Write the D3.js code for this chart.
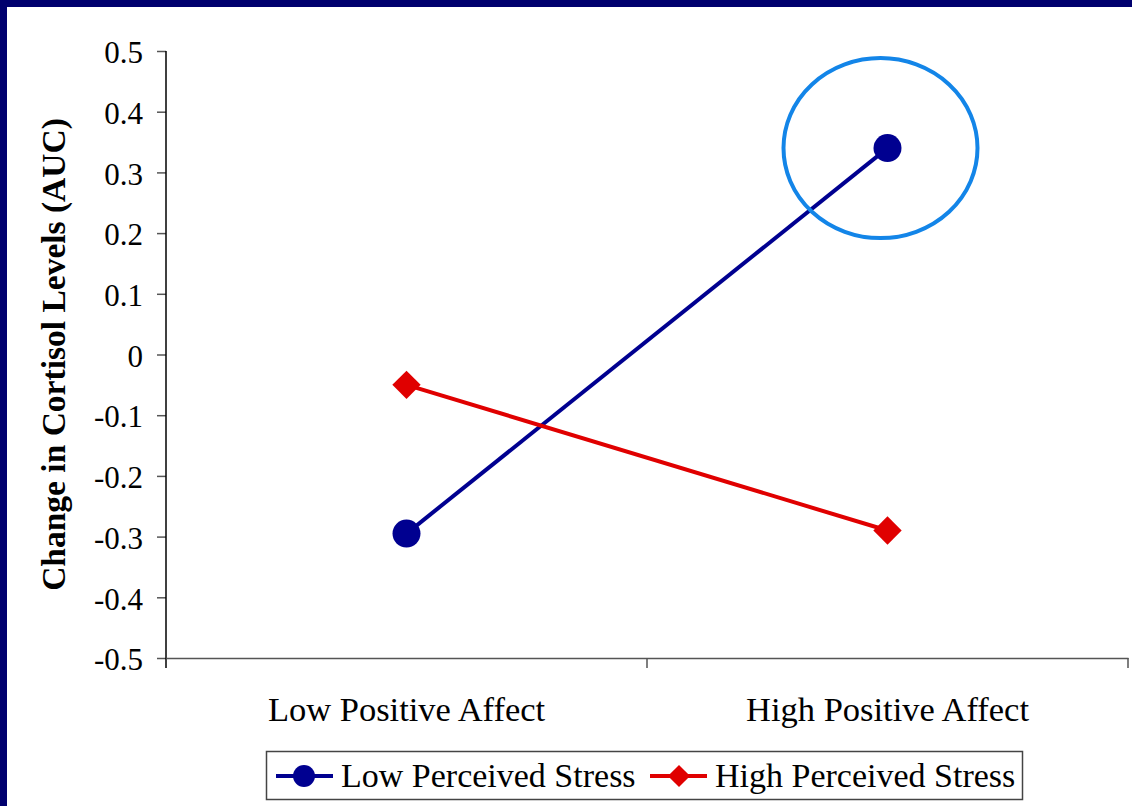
<!DOCTYPE html>
<html>
<head>
<meta charset="utf-8">
<script src="https://cdn.jsdelivr.net/npm/d3@7"></script>
<style>
html,body{margin:0;padding:0;background:#fff;}
svg{display:block;}
</style>
</head>
<body>
<svg id="chart" width="1132" height="806"></svg>
<script>
const categories = ["Low Positive Affect", "High Positive Affect"];
const seriesNames = ["Low Perceived Stress", "High Perceived Stress"];
const lowStress = [-0.295, 0.34];
const highStress = [-0.05, -0.29];
const yTicks = [0.5, 0.4, 0.3, 0.2, 0.1, 0, -0.1, -0.2, -0.3, -0.4, -0.5];
const yTickLabels = ["0.5", "0.4", "0.3", "0.2", "0.1", "0", "-0.1", "-0.2", "-0.3", "-0.4", "-0.5"];
const yTitle = "Change in Cortisol Levels (AUC)";

const svg = d3.select("#chart");
const W = 1132, H = 806;
const serif = "'Liberation Serif','Times New Roman',Times,serif";

// background + navy frame
svg.append("rect").attr("x", 0).attr("y", 0).attr("width", W).attr("height", H).attr("fill", "#00006e");
svg.append("rect").attr("x", 7).attr("y", 7).attr("width", W - 7).attr("height", H - 7).attr("fill", "#fff");

const x = d3.scaleBand().domain(categories).range([166, 1128]).paddingInner(0).paddingOuter(0);
const y = d3.scaleLinear().domain([-0.5, 0.5]).range([658, 51]);
const cx = d => x(d) + x.bandwidth() / 2;

// Y axis
const yAxis = d3.axisLeft(y).tickValues(yTicks).tickSize(9).tickPadding(14)
  .tickFormat((d, i) => yTickLabels[i]);
const gy = svg.append("g").attr("transform", "translate(166,0)").call(yAxis);
gy.select(".domain").remove();
gy.selectAll(".tick line").attr("stroke", "#555").attr("stroke-width", 1.5);
gy.selectAll(".tick text").attr("font-family", serif).attr("font-size", 31).attr("fill", "#000").attr("dy", "0.38em");
svg.append("line").attr("x1", 166).attr("x2", 166).attr("y1", y(0.5)).attr("y2", y(-0.5) + 10)
  .attr("stroke", "#000").attr("stroke-width", 1.5);

// X axis
const xAxis = d3.axisBottom(x).tickSize(0).tickPadding(47);
const gx = svg.append("g").attr("transform", `translate(0,${y(-0.5)})`).call(xAxis);
gx.select(".domain").attr("stroke", "#555").attr("stroke-width", 1.5);
gx.selectAll(".tick line").remove();
gx.selectAll(".tick text").attr("font-family", serif).attr("font-size", 34.5).attr("fill", "#000").attr("dy", "0.45em");
const boundaries = categories.map(c => x(c)).concat([x(categories[categories.length - 1]) + x.bandwidth()]);
svg.append("g").selectAll("line").data(boundaries.slice(1)).join("line")
  .attr("x1", d => d).attr("x2", d => d).attr("y1", y(-0.5)).attr("y2", y(-0.5) + 10)
  .attr("stroke", "#555").attr("stroke-width", 1.5);

// Y title
svg.append("text")
  .attr("transform", `translate(65,${(y(0.5) + y(-0.5)) / 2}) rotate(-90)`)
  .attr("text-anchor", "middle")
  .attr("font-family", serif).attr("font-weight", "bold").attr("font-size", 33.5)
  .attr("fill", "#000").text(yTitle);

// Series
const blue = "#000090", red = "#e00000";
const line = d3.line().x((d, i) => cx(categories[i])).y(d => y(d));

svg.append("path").datum(lowStress).attr("d", line).attr("fill", "none").attr("stroke", blue).attr("stroke-width", 4);
svg.append("path").datum(highStress).attr("d", line).attr("fill", "none").attr("stroke", red).attr("stroke-width", 4);

svg.append("g").selectAll("circle").data(lowStress).join("circle")
  .attr("cx", (d, i) => cx(categories[i])).attr("cy", d => y(d)).attr("r", 14).attr("fill", blue);

const diamond = d3.symbol().type(d3.symbolDiamond2).size(2 * 16 * 16);
svg.append("g").selectAll("path").data(highStress).join("path")
  .attr("d", diamond)
  .attr("transform", (d, i) => `translate(${cx(categories[i])},${y(d)})`)
  .attr("fill", red);

// Annotation ellipse around the high-PA / low-stress point
svg.append("ellipse")
  .attr("cx", cx(categories[1]) - 7).attr("cy", y(lowStress[1]))
  .attr("rx", 97).attr("ry", 90)
  .attr("fill", "none").attr("stroke", "#1385e8").attr("stroke-width", 4);

// Legend
const lg = svg.append("g");
lg.append("rect").attr("x", 266.5).attr("y", 751.5).attr("width", 756).attr("height", 48)
  .attr("fill", "#fff").attr("stroke", "#444").attr("stroke-width", 1.5);
const legendItems = [
  {name: seriesNames[0], color: blue, x0: 276, shape: "circle"},
  {name: seriesNames[1], color: red, x0: 650, shape: "diamond"}
];
const ly = 776;
legendItems.forEach(it => {
  lg.append("line").attr("x1", it.x0).attr("x2", it.x0 + 57).attr("y1", ly).attr("y2", ly)
    .attr("stroke", it.color).attr("stroke-width", 4);
  if (it.shape === "circle") {
    lg.append("circle").attr("cx", it.x0 + 28).attr("cy", ly).attr("r", 11).attr("fill", it.color);
  } else {
    lg.append("path").attr("d", d3.symbol().type(d3.symbolDiamond2).size(2 * 12.5 * 12.5))
      .attr("transform", `translate(${it.x0 + 29},${ly})`).attr("fill", it.color);
  }
  lg.append("text").attr("x", it.x0 + 65).attr("y", 787)
    .attr("font-family", serif).attr("font-size", 34).attr("fill", "#000").text(it.name);
});
</script>
</body>
</html>
